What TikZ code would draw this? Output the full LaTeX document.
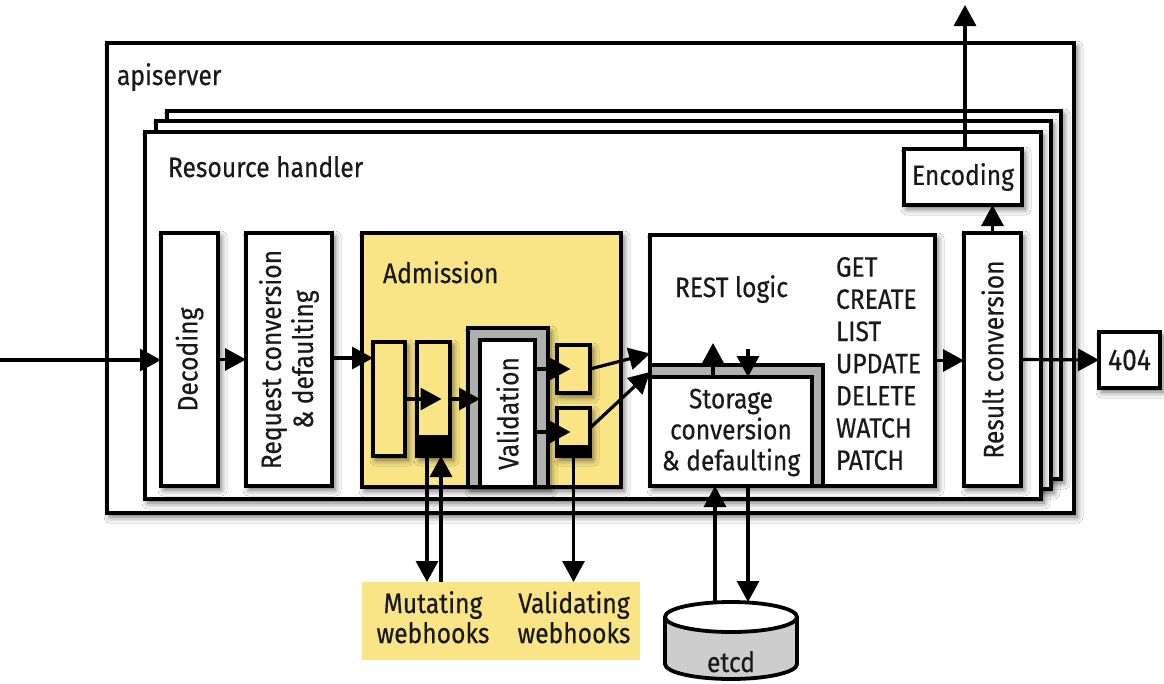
\documentclass[tikz,border=0pt]{standalone}
\usepackage{fontspec}
\setmainfont[FakeStretch=0.88,FakeBold=0.4]{Fira Sans}
\usetikzlibrary{arrows.meta,shadows.blur,fit}
\definecolor{adm}{RGB}{249,229,133}
\definecolor{frm}{RGB}{175,175,175}
\definecolor{cyl}{RGB}{205,205,205}
\definecolor{txt}{RGB}{25,25,25}
\begin{document}
\begin{tikzpicture}[x=1pt,y=-1pt,
  every node/.style={font=\fontsize{28}{32}\selectfont, text=txt, inner sep=0pt, outer sep=0pt},
  shad/.style={blur shadow={shadow xshift=3pt, shadow yshift=-4pt, shadow blur radius=6pt, shadow opacity=60}},
  box/.style={draw, line width=3.8pt, fill=white, shad},
  plainbox/.style={draw, line width=3.8pt, fill=white},
  arr/.style={line width=3.2pt, -{Triangle[length=21pt,width=22pt]}}
]
\useasboundingbox (0,0) rectangle (1164,683);
\fill[white] (0,0) rectangle (1164,683);

% apiserver and stacked resource handlers
\node[box, fit={(107,43) (1074,513)}] (api) {};
\node[anchor=base west] (apit) at (117,85) {apiserver};
\node[box, fit={(167,111) (1061,479)}] (rh3) {};
\node[box, fit={(156,121) (1051,489)}] (rh2) {};
\node[box, fit={(145,132) (1041,499)}] (rh1) {};
\node[anchor=base west] (rht) at (168,177) {Resource handler};

% decoding, request conversion
\node[box, fit={(161,233) (218,486)}] (dec) {};
\node[rotate=90] (dect) at (dec.center) {Decoding};
\node[box, fit={(246,233) (332,486)}] (req) {};
\node[rotate=90, align=center] (reqt) at (req.center) {Request conversion\\\& defaulting};

% admission
\node[box, fill=adm, fit={(362,233) (621,487)}] (adm) {};
\node[anchor=base west] (admt) at (383,283) {Admission};
\node[box, fill=adm, fit={(373,342) (405,456)}] (m1) {};
\node[box, fill=adm, fit={(417,342) (450,456)}] (m2) {};
\draw[line width=3.8pt, fill=black] (m2.south west) rectangle ([yshift=19pt]m2.south east);
\node[box, fill=frm, fit={(468,328) (548,487)}] (vf) {};
\node[plainbox, fit={(480,340) (535,487)}] (val) {};
\node[rotate=90] (valt) at (val.center) {Validation};
\node[box, fill=adm, fit={(557,345) (590,393)}] (v1) {};
\node[box, fill=adm, fit={(557,408) (590,456)}] (v2) {};
\draw[line width=3.8pt, fill=black] (v2.south west) rectangle ([yshift=9pt]v2.south east);

% REST logic
\node[box, fit={(650,235) (935,486)}] (rest) {};
\node[anchor=base west] (restt) at (675,297) {REST logic};
\node[plainbox, fill=frm, fit={(650,365) (823,486)}] (sf) {};
\node[plainbox, fit={(650,377) (812,486)}] (sto) {};
\node[align=center, font=\fontsize{28}{31}\selectfont] (stot) at ([yshift=-1pt]sto.center) {Storage\\conversion\\\& defaulting};
\node[anchor=north west, align=left, font=\fontsize{28}{32.2}\selectfont] (verbs) at (836,257) {GET\\CREATE\\LIST\\UPDATE\\DELETE\\WATCH\\PATCH};

% result conversion, encoding, 404
\node[box, fit={(964,233) (1021,486)}] (res) {};
\node[rotate=90] (rest2) at (res.center) {Result conversion};
\node[box, fit={(904,149) (1022,205)}] (enc) {};
\node (enct) at (enc.center) {Encoding};
\node[box, fit={(1099,332) (1160,388)}] (nf) {};
\node[font=\fontsize{30}{32}\selectfont] (nft) at (nf.center) {404};

% webhooks
\node[fill=adm, fit={(362,582) (640,660)}] (wh) {};
\node[anchor=base] (mt1) at (433,613) {Mutating};
\node[anchor=base] (mt2) at (433,643) {webhooks};
\node[anchor=base] (vt1) at (574,613) {Validating};
\node[anchor=base] (vt2) at (574,643) {webhooks};

% etcd cylinder
\fill[cyl] (665,617) rectangle (797,664);
\fill[cyl] (731,664) ellipse[x radius=66pt, y radius=15pt];
\draw[line width=3.8pt] (665,617) -- (665,664) arc[start angle=180, end angle=360, x radius=66pt, y radius=15pt] -- (797,617);
\draw[line width=3.8pt, fill=white] (731,617) ellipse[x radius=66pt, y radius=15pt];
\coordinate (etcdtop) at (731,602);
\node[anchor=base] (etcdt) at (731,672) {etcd};

% connectors
\coordinate (src) at (0,360);
\draw[arr] (src) -- (src -| dec.west);
\draw[arr] (dec.east) -- (req.west);
\coordinate (a1) at (373,358);
\draw[arr] (req.east |- a1) -- (a1);
\draw[arr] (m1.east) -- ([xshift=8pt]m2.center);
\draw[arr] (m2.east) -- (m2.east -| val.west);
\draw[arr] (val.east |- v1.center) -- ([xshift=-3pt]v1.center);
\draw[arr] (val.east |- v2.center) -- ([xshift=-3pt]v2.center);
\draw[arr] (v1.east) -- ([yshift=7pt]rest.west);
\draw[arr] ([yshift=4pt]v2.east) -- ([yshift=-11.5pt]rest.west);
\draw[arr] ([xshift=-18pt]sto.north) -- ([xshift=-18pt,yshift=34pt]sto.north);
\draw[arr] ([xshift=17pt,yshift=28pt]sto.north) -- ([xshift=17pt]sto.north);
\draw[arr] (rest.east) -- (res.west |- rest.east);
\draw[arr] (res.east) -- (nf.west);
\draw[arr] (res.north) -- (res.north |- enc.south);
\coordinate (out) at (965,5);
\draw[arr] (enc.north -| out) -- (out);
\draw[arr] ([xshift=-6.5pt]m2.south) -- ([xshift=-6.5pt]m2.south |- wh.north);
\draw[arr] ([xshift=7.5pt]m2.south |- wh.north) -- ([xshift=7.5pt]m2.south);
\draw[arr] (v2.south) -- (v2.south |- wh.north);
\draw[arr] ([xshift=-16pt]etcdtop) -- ([xshift=-16pt]sto.south);
\draw[arr] ([xshift=17pt]sto.south) -- ([xshift=17pt]etcdtop);
\end{tikzpicture}
\end{document}
